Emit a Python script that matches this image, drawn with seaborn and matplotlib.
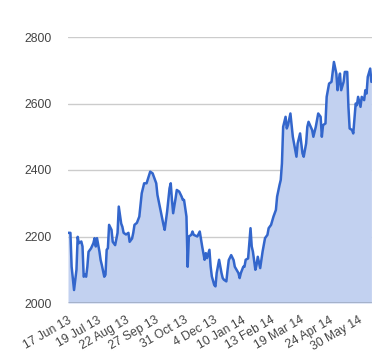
import seaborn as sns
import matplotlib
matplotlib.use("Agg")
import matplotlib.pyplot as plt
import pandas as pd

# trading-day index and closing level
dia = [0, 2, 3, 5, 7, 8, 9, 11, 12, 13, 14, 15, 16, 17, 19, 21, 22, 23, 24, 26,
       27, 28, 30, 31, 32, 33, 34, 36, 37, 39, 41, 42, 44, 45, 46, 48, 50, 51, 53, 54,
       55, 57, 59, 61, 63, 65, 68, 70, 71, 73, 74, 77, 79, 80, 82, 84, 85, 86, 87, 89,
       90, 92, 94, 95, 96, 98, 99, 100, 102, 103, 104, 107, 109, 111, 113, 114, 115, 117, 118, 119,
       121, 122, 123, 125, 127, 128, 129, 131, 132, 133, 135, 137, 138, 141, 142, 143, 145, 146, 147, 149,
       151, 152, 153, 155, 156, 157, 159, 160, 161, 163, 165, 166, 168, 170, 172, 173, 175, 176, 177, 178,
       180, 181, 182, 184, 186, 189, 190, 192, 194, 195, 197, 198, 199, 202, 203, 205, 207, 209, 210, 211,
       213, 214, 216, 218, 219, 220, 222, 223, 224, 225, 226, 228, 229, 231, 232, 233, 235, 236, 238, 239,
       240, 242, 243, 245, 246, 247, 248, 250, 251]
cierre = [2211, 2211, 2109, 2039, 2100, 2199, 2180, 2185, 2170, 2079, 2085, 2079, 2109, 2154, 2164, 2180, 2195, 2170, 2195, 2155,
          2129, 2114, 2079, 2085, 2160, 2165, 2235, 2220, 2184, 2174, 2211, 2290, 2239, 2229, 2211, 2206, 2211, 2184, 2194, 2211,
          2235, 2241, 2260, 2330, 2360, 2360, 2395, 2390, 2380, 2360, 2325, 2270, 2235, 2220, 2275, 2345, 2360, 2310, 2270, 2315,
          2340, 2335, 2320, 2310, 2310, 2260, 2109, 2200, 2205, 2215, 2205, 2200, 2215, 2170, 2130, 2150, 2135, 2160, 2110, 2080,
          2054, 2050, 2090, 2130, 2090, 2075, 2070, 2065, 2099, 2129, 2144, 2129, 2109, 2090, 2075, 2090, 2109, 2109, 2130, 2134,
          2225, 2170, 2154, 2100, 2115, 2139, 2105, 2130, 2155, 2195, 2205, 2225, 2235, 2260, 2280, 2320, 2355, 2370, 2420, 2530,
          2560, 2525, 2535, 2570, 2500, 2440, 2480, 2510, 2450, 2440, 2480, 2530, 2545, 2520, 2500, 2530, 2570, 2560, 2500, 2535,
          2540, 2620, 2660, 2665, 2695, 2725, 2690, 2640, 2670, 2690, 2640, 2665, 2695, 2695, 2590, 2525, 2520, 2510, 2600, 2595,
          2620, 2590, 2620, 2610, 2640, 2630, 2680, 2705, 2665]

etiquetas = ["17 Jun 13", "19 Jul 13", "22 Aug 13", "27 Sep 13", "31 Oct 13", "4 Dec 13",
             "10 Jan 14", "13 Feb 14", "19 Mar 14", "24 Apr 14", "30 May 14"]
pos_etiquetas = [0, 24, 48, 72, 96, 120, 144, 168, 192, 216, 240]
valores_y = [2000, 2200, 2400, 2600, 2800]

sns.set_theme(style="white")
plt.rcParams['font.family'] = ['Liberation Sans', 'DejaVu Sans']

df = pd.DataFrame({'Dia': dia, 'Cierre': cierre})

fig = plt.figure(figsize=(3.8, 3.6), dpi=100)
ax = fig.add_axes([68 / 380, 57 / 360, 304 / 380, 266 / 360])

for v in valores_y[1:]:
    ax.axhline(v, color='#cccccc', linewidth=1, zorder=0)

ax.fill_between(df['Dia'], 2000, df['Cierre'], color='#c2d1f0', linewidth=0, zorder=1)
sns.lineplot(data=df, x='Dia', y='Cierre', color='#3366cc', linewidth=1.8, ax=ax, zorder=2)
ax.axhline(2000, color='#333333', linewidth=1, zorder=3)

ax.set_xlim(0, 251.5)
ax.set_ylim(2000, 2800)
ax.set_yticks(valores_y)
ax.set_yticklabels([str(v) for v in valores_y], fontsize=8.7, color='#444444')
ax.set_xticks(pos_etiquetas)
ax.set_xticklabels(etiquetas, fontsize=8.7, color='#444444', rotation=30,
                   ha='right', rotation_mode='anchor')
ax.tick_params(axis='y', length=0, pad=12)
ax.tick_params(axis='x', length=0, pad=8)
ax.set_xlabel('')
ax.set_ylabel('')
for s in ax.spines.values():
    s.set_visible(False)

fig.savefig('out.png', dpi=100)
